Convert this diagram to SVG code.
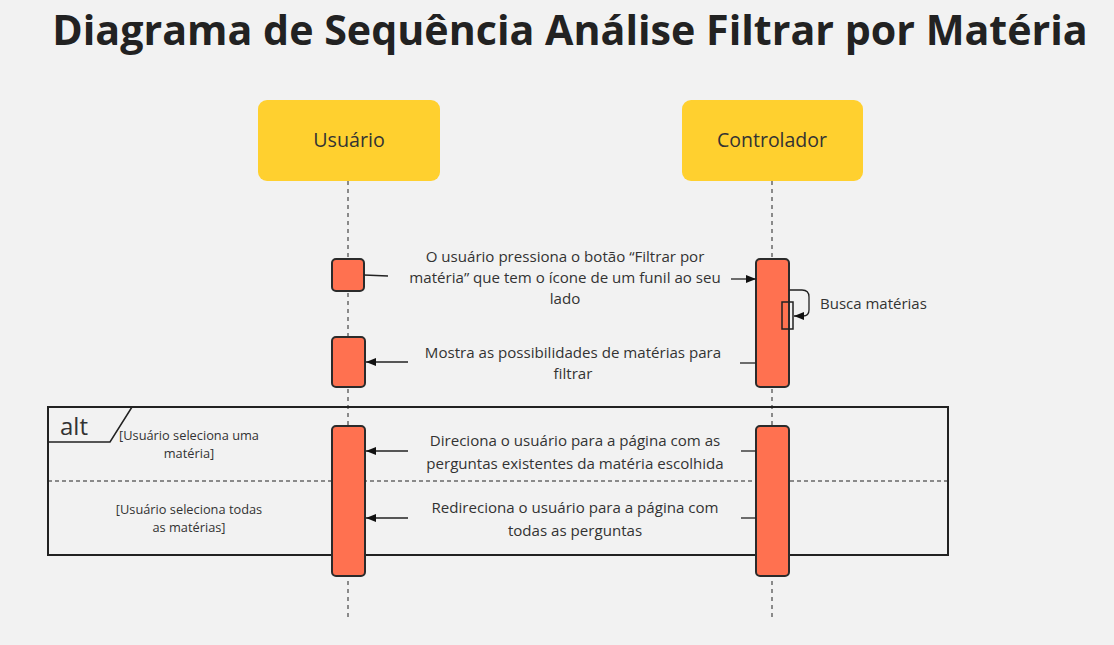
<svg xmlns="http://www.w3.org/2000/svg" width="1114" height="645" viewBox="0 0 1114 645">
<style>
.t{font-family:"Open Sans","Noto Sans",sans-serif;fill:#333;}
.title{font-family:"Open Sans","Noto Sans",sans-serif;font-weight:bold;font-size:41.2px;fill:#222;}
.head{fill:#ffd02f;}
.act{fill:#ff7150;stroke:#2b2b2b;stroke-width:2;}
.life{stroke:#222;stroke-width:1;stroke-dasharray:4 4;}
.msg{stroke:#222;stroke-width:1.3;fill:none;}
.lbl{font-size:15.1px;text-anchor:middle;}
.guard{font-size:12.8px;text-anchor:middle;}
</style>
<defs>
<marker id="ah" viewBox="0 0 10 10" refX="10" refY="5" markerWidth="10" markerHeight="10" markerUnits="userSpaceOnUse" orient="auto">
<path d="M0,1 L10,5 L0,9 Z" fill="#111"/>
</marker>
</defs>
<rect width="1114" height="645" fill="#f2f2f2"/>
<text class="title" x="570" y="45" text-anchor="middle">Diagrama de Sequência Análise Filtrar por Matéria</text>

<g id="lifelines">
<line class="life" x1="348" y1="181" x2="348" y2="620"/>
<line class="life" x1="772" y1="181" x2="772" y2="620"/>
</g>

<g id="usuario">
<rect class="head" x="258" y="100" width="182" height="81" rx="9"/>
<text class="t" x="349" y="147" font-size="19.7" text-anchor="middle">Usuário</text>
</g>
<g id="controlador">
<rect class="head" x="682" y="100" width="181" height="81" rx="9"/>
<text class="t" x="772" y="147" font-size="19.5" text-anchor="middle">Controlador</text>
</g>

<g id="alt-frame">
<rect x="48" y="407" width="900" height="148" fill="none" stroke="#222" stroke-width="2"/>
<path d="M48,442 L110,442 L132,407" fill="none" stroke="#222" stroke-width="1.5"/>
<text class="t" x="60" y="435" font-size="24">alt</text>
<line x1="48" y1="481" x2="948" y2="481" stroke="#222" stroke-width="1.2" stroke-dasharray="4 3"/>
<text class="t guard" x="189" y="440">[Usuário seleciona uma</text>
<text class="t guard" x="189" y="458">matéria]</text>
<text class="t guard" x="189" y="514">[Usuário seleciona todas</text>
<text class="t guard" x="189" y="532">as matérias]</text>
</g>

<g id="activations">
<rect class="act" x="332" y="259" width="32" height="32" rx="4"/>
<rect class="act" x="332" y="337" width="33" height="50" rx="4"/>
<rect class="act" x="332" y="426" width="33" height="150" rx="4"/>
<rect class="act" x="756" y="259" width="33" height="128" rx="4"/>
<rect class="act" x="756" y="426" width="33" height="150" rx="4"/>
<rect x="782" y="302" width="11" height="27" fill="none" stroke="#222" stroke-width="1.5"/>
</g>

<g id="connectors">
<line class="msg" x1="364" y1="275" x2="388" y2="276"/>
<line class="msg" x1="731" y1="279" x2="756" y2="279" marker-end="url(#ah)"/>
<path class="msg" d="M789,290 L802,290 Q809,290 809,297 L809,310 Q809,316 803,316 L794,316" marker-end="url(#ah)"/>
<line class="msg" x1="408" y1="362" x2="366" y2="362" marker-end="url(#ah)"/>
<line class="msg" x1="740" y1="363" x2="756" y2="363"/>
<line class="msg" x1="408" y1="451" x2="366" y2="451" marker-end="url(#ah)"/>
<line class="msg" x1="741" y1="451" x2="756" y2="451"/>
<line class="msg" x1="408" y1="518" x2="366" y2="518" marker-end="url(#ah)"/>
<line class="msg" x1="741" y1="518" x2="756" y2="518"/>
</g>

<g id="labels">
<text class="t lbl" x="565" y="262">O usuário pressiona o botão “Filtrar por</text>
<text class="t lbl" x="565" y="283">matéria” que tem o ícone de um funil ao seu</text>
<text class="t lbl" x="565" y="304">lado</text>
<text class="t" x="820" y="309" font-size="15">Busca matérias</text>
<text class="t lbl" x="573" y="358">Mostra as possibilidades de matérias para</text>
<text class="t lbl" x="573" y="379">filtrar</text>
<text class="t lbl" x="575" y="446">Direciona o usuário para a página com as</text>
<text class="t lbl" x="575" y="469">perguntas existentes da matéria escolhida</text>
<text class="t lbl" x="575" y="513">Redireciona o usuário para a página com</text>
<text class="t lbl" x="575" y="536">todas as perguntas</text>
</g>
</svg>
